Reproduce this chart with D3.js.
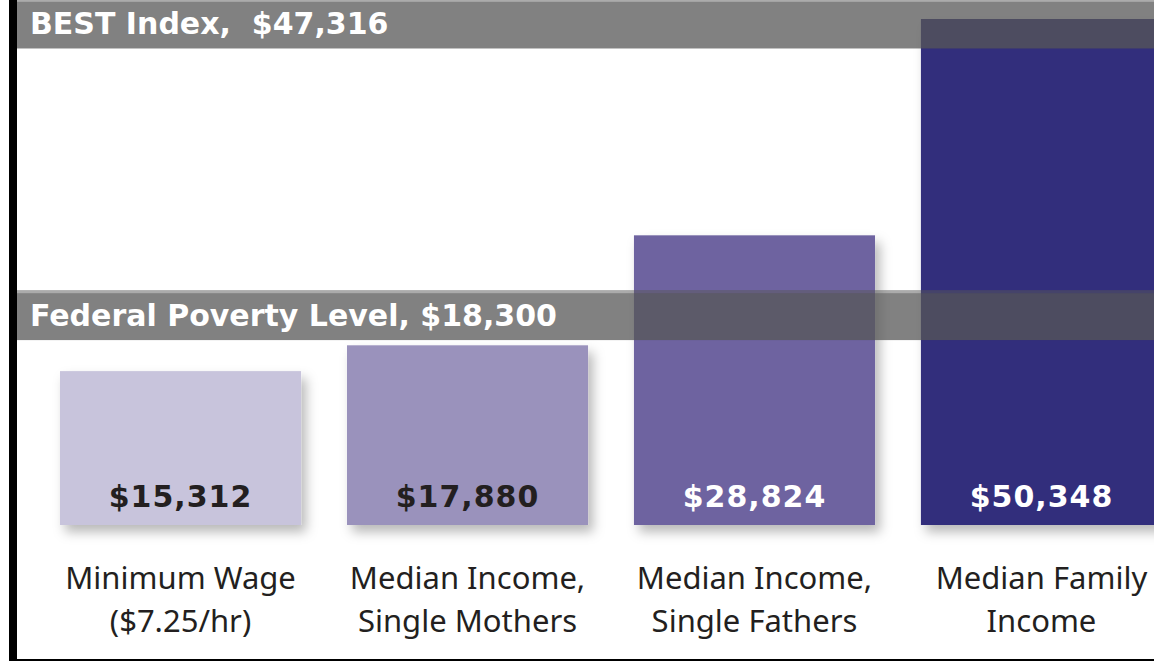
<!DOCTYPE html>
<html>
<head>
<meta charset="utf-8">
<script src="https://cdn.jsdelivr.net/npm/d3@7"></script>
<style>
  body { margin: 0; background: #fff; }
  svg { display: block; }
</style>
</head>
<body>
<div id="chart"></div>
<script>
var width = 1154;
var height = 661;

// data
var categories = ["Minimum Wage", "Median Income, Single Mothers", "Median Income, Single Fathers", "Median Family Income"];
var labelLines = [["Minimum Wage", "($7.25/hr)"], ["Median Income,", "Single Mothers"], ["Median Income,", "Single Fathers"], ["Median Family", "Income"]];
var values = [15312, 17880, 28824, 50348];
var barColors = ["#c8c4dc", "#9a92bc", "#6e64a0", "#302d7b"];
var valueTextColors = ["#231f20", "#231f20", "#ffffff", "#ffffff"];
var refNames = ["BEST Index,  $47,316", "Federal Poverty Level, $18,300"];
var refValues = [47316, 18300];

var svg = d3.select("#chart")
    .append("svg")
    .attr("width", width)
    .attr("height", height);

var defs = svg.append("defs");
var shadow = defs.append("filter")
    .attr("id", "shadow")
    .attr("x", "-20%").attr("y", "-20%")
    .attr("width", "150%").attr("height", "150%");
shadow.append("feDropShadow")
    .attr("dx", 5)
    .attr("dy", 7)
    .attr("stdDeviation", 6)
    .attr("flood-color", "#000")
    .attr("flood-opacity", 0.28);

var x = d3.scaleBand()
    .domain(categories)
    .range([60, 1162])
    .paddingInner(0.16)
    .paddingOuter(0);

var y = d3.scaleLinear()
    .domain([0, 50000])
    .range([525, 22.5]);

// bars
svg.append("g")
    .selectAll("rect")
    .data(values)
    .enter()
    .append("rect")
    .attr("x", function(d, i) { return x(categories[i]); })
    .attr("y", function(d) { return y(d); })
    .attr("width", x.bandwidth())
    .attr("height", function(d) { return y(0) - y(d); })
    .attr("fill", function(d, i) { return barColors[i]; })
    .attr("filter", "url(#shadow)");

// value labels
svg.append("g")
    .selectAll("text")
    .data(values)
    .enter()
    .append("text")
    .attr("x", function(d, i) { return x(categories[i]) + x.bandwidth() / 2; })
    .attr("y", y(0) - 18)
    .attr("text-anchor", "middle")
    .attr("font-family", "DejaVu Sans")
    .attr("font-weight", "bold")
    .attr("font-size", 30)
    .attr("letter-spacing", 1)
    .attr("fill", function(d, i) { return valueTextColors[i]; })
    .text(function(d) { return "$" + d3.format(",")(d); });

// reference bands
var bandH = 47;
var refs = svg.append("g")
    .selectAll("g")
    .data(refValues)
    .enter()
    .append("g");

refs.append("rect")
    .attr("x", 17)
    .attr("y", function(d) { return y(d) - 1 - bandH - 3; })
    .attr("width", width - 17)
    .attr("height", 3)
    .attr("fill", "#575757")
    .attr("opacity", 0.5);

refs.append("rect")
    .attr("x", 17)
    .attr("y", function(d) { return y(d) - 1 - bandH; })
    .attr("width", width - 17)
    .attr("height", bandH)
    .attr("fill", "#575757")
    .attr("opacity", 0.75);

refs.append("text")
    .attr("x", 30)
    .attr("y", function(d) { return y(d) - 15; })
    .attr("font-family", "DejaVu Sans")
    .attr("font-weight", "bold")
    .attr("font-size", 30)
    .attr("fill", "#ffffff")
    .style("white-space", "pre")
    .text(function(d, i) { return refNames[i]; });

// category labels
var cats = svg.append("g")
    .selectAll("text")
    .data(labelLines)
    .enter()
    .append("text")
    .attr("text-anchor", "middle")
    .attr("font-family", "Noto Sans")
    .attr("font-size", 31)
    .attr("fill", "#231f20");

cats.selectAll("tspan")
    .data(function(d, i) { return d.map(function(t) { return { t: t, i: i }; }); })
    .enter()
    .append("tspan")
    .attr("x", function(d) { return x(categories[d.i]) + x.bandwidth() / 2; })
    .attr("y", function(d, j) { return 589 + j * 43; })
    .text(function(d) { return d.t; });

// frame
svg.append("rect")
    .attr("x", 9)
    .attr("y", 0)
    .attr("width", 8)
    .attr("height", height)
    .attr("fill", "#000");

svg.append("rect")
    .attr("x", 9)
    .attr("y", 659)
    .attr("width", width - 9)
    .attr("height", 2)
    .attr("fill", "#000");
</script>
</body>
</html>
